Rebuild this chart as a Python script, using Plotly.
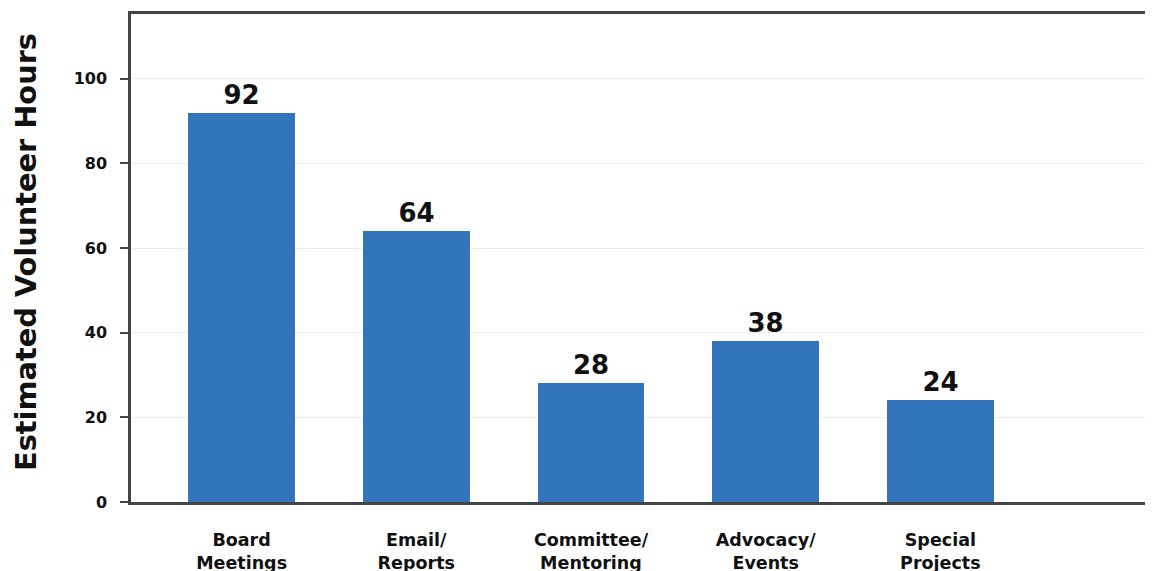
import plotly.graph_objects as go

categories = ["Board<br>Meetings", "Email/<br>Reports", "Committee/<br>Mentoring", "Advocacy/<br>Events", "Special<br>Projects"]
hours = [92, 64, 28, 38, 24]
value_labels = ["92", "64", "28", "38", "24"]
y_ticks = [0, 20, 40, 60, 80, 100]
y_title = "Estimated Volunteer Hours"

fig = go.Figure()
fig.add_trace(go.Bar(
    x=list(range(len(categories))),
    y=hours,
    width=0.612,
    marker=dict(color="#3375BB", line=dict(width=0)),
    text=value_labels,
    texttemplate="<b>%{text}</b>",
    textposition="outside",
    textfont=dict(family="DejaVu Sans", size=26, color="#111111"),
    cliponaxis=False,
))

fig.update_layout(
    width=1153, height=571,
    margin=dict(l=123, r=0, t=6, b=77),
    paper_bgcolor="white", plot_bgcolor="white",
    font=dict(family="DejaVu Sans", color="#111111"),
    showlegend=False,
    bargap=0,
    uniformtext=dict(minsize=8),
)
fig.update_xaxes(
    tickmode="array",
    tickvals=list(range(len(categories))),
    ticktext=["<b>" + c.replace("<br>", "</b><br><b>") + "</b>" for c in categories],
    tickfont=dict(size=17.5, family="DejaVu Sans", color="#111111"),
    range=[-0.633, 5.263],
    showline=True, linecolor="#444444", linewidth=2.5, mirror=True,
    ticks="", showgrid=False, zeroline=False,
    ticklabelstandoff=20,
)
fig.update_yaxes(
    range=[0, 115.3],
    tickmode="array",
    tickvals=y_ticks,
    ticktext=["<b>%d</b>" % v for v in y_ticks],
    tickfont=dict(size=16, family="DejaVu Sans", color="#111111"),
    showline=True, linecolor="#444444", linewidth=2.5,
    ticks="outside", ticklen=8, tickwidth=2, tickcolor="#444444",
    ticklabelstandoff=10,
    showgrid=True, gridcolor="#ececec", gridwidth=1,
    zeroline=False,
)
fig.add_annotation(
    text="<b>" + y_title + "</b>",
    textangle=-90,
    xref="paper", yref="paper", x=0, y=0.5,
    xanchor="center", yanchor="middle",
    xshift=-105, yshift=6,
    showarrow=False,
    font=dict(size=28.8, family="DejaVu Sans", color="#111111"),
)

fig.write_html("out.html")
